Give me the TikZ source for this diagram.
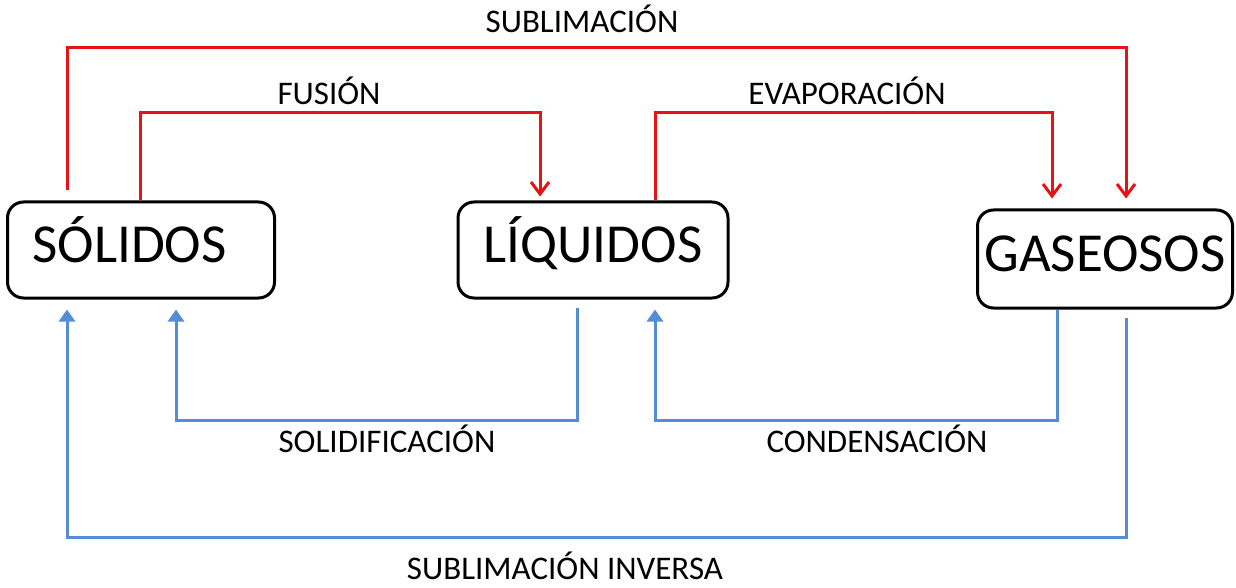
\documentclass[tikz,border=0pt]{standalone}
\usepackage{fontspec}
\setmainfont{Carlito}
\usetikzlibrary{arrows.meta}
\definecolor{rojo}{RGB}{230,18,22}
\definecolor{azul}{RGB}{84,141,212}
\tikzset{
  estado/.style={draw, line width=1.5pt, rounded corners=8pt, inner sep=0pt,
    minimum height=48pt, text height=12.5pt, text depth=0pt,
    font=\fontsize{27.5}{32}\selectfont},
  etiqueta/.style={anchor=base, font=\fontsize{16.5}{19}\selectfont},
  calor/.style={draw=rojo, line width=1.5pt, -{Straight Barb[length=6pt,width=9pt,line width=1.5pt]}},
  frio/.style={draw=azul, line width=1.5pt, -{Triangle[length=6pt,width=8pt]}}
}
\begin{document}
\begin{tikzpicture}[x=0.5pt,y=-0.5pt]
    \useasboundingbox (0,0) rectangle (1236,588);
    % estados
    \node[estado, text width=108.5pt, inner xsep=12.5pt, align=left] (sol) at (141,250) {SÓLIDOS};
    \node[estado, minimum width=135pt] (liq) at (593,250) {LÍQUIDOS};
    \node[estado, minimum width=127.5pt, minimum height=49pt] (gas) at (1105,259) {GASEOSOS};

    % calentando
    \draw[calor, shorten <=5pt, shorten >=5pt] (67,0 |- sol.north) |- (1126,48) -- (1126,0 |- gas.north);
    \draw[calor, shorten >=2pt] (140,0 |- sol.north) |- (540,113) -- (540,0 |- liq.north);
    \draw[calor, shorten >=5pt] (655,0 |- liq.north) |- (1052,113) -- (1052,0 |- gas.north);
    \node[etiqueta] (subl) at (582,33) {SUBLIMACIÓN};
    \node[etiqueta] (fus) at (329,105) {FUSIÓN};
    \node[etiqueta] (evap) at (847,105) {EVAPORACIÓN};

    % enfriando
    \draw[frio, shorten <=4pt, shorten >=5pt] (577,0 |- liq.south) |- (176,420) -- (176,0 |- sol.south);
    \draw[frio, shorten >=5pt] (1057,0 |- gas.south) |- (655,420) -- (655,0 |- liq.south);
    \draw[frio, shorten <=4pt, shorten >=5pt] (1126,0 |- gas.south) |- (67,537) -- (67,0 |- sol.south);
    \node[etiqueta] (solid) at (387,452) {SOLIDIFICACIÓN};
    \node[etiqueta] (cond) at (877,452) {CONDENSACIÓN};
    \node[etiqueta] (inv) at (565,579) {SUBLIMACIÓN INVERSA};
\end{tikzpicture}
\end{document}
